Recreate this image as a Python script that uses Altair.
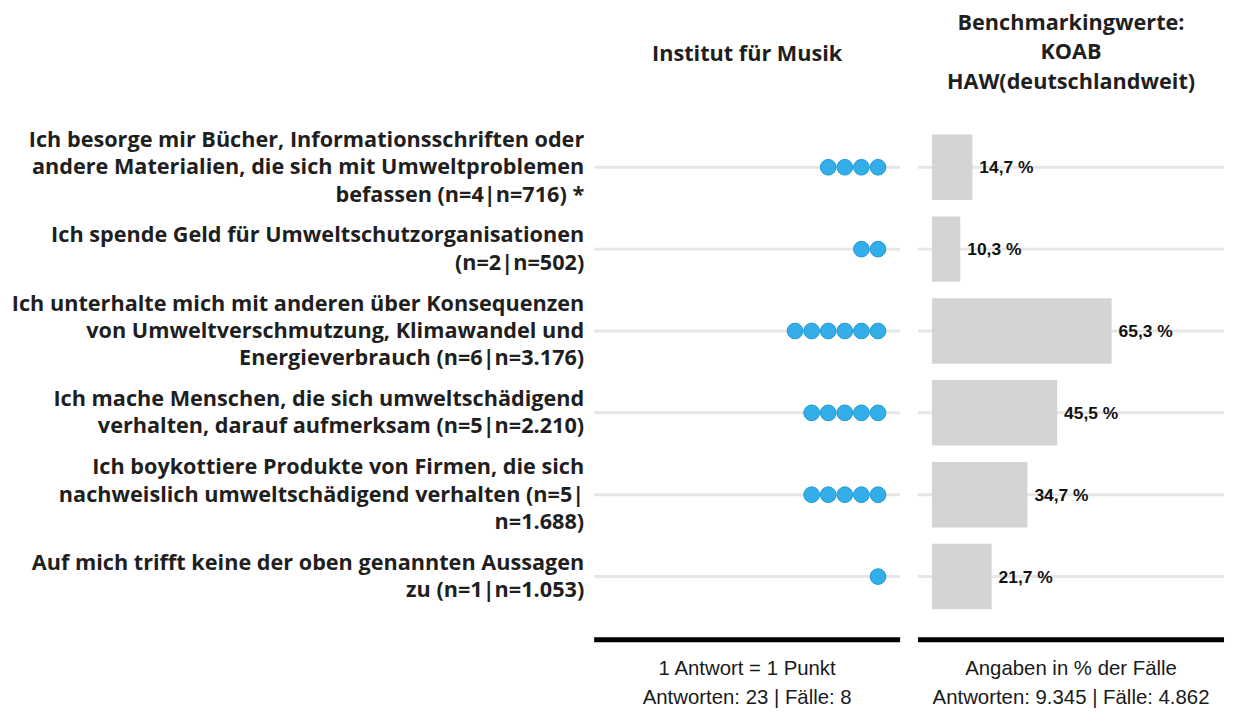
import altair as alt
import pandas as pd

# ---- data ----
labels = [
    "Ich besorge mir Bücher, Informationsschriften oder\nandere Materialien, die sich mit Umweltproblemen\nbefassen (n=4|n=716) *",
    "Ich spende Geld für Umweltschutzorganisationen\n(n=2|n=502)",
    "Ich unterhalte mich mit anderen über Konsequenzen\nvon Umweltverschmutzung, Klimawandel und\nEnergieverbrauch (n=6|n=3.176)",
    "Ich mache Menschen, die sich umweltschädigend\nverhalten, darauf aufmerksam (n=5|n=2.210)",
    "Ich boykottiere Produkte von Firmen, die sich\nnachweislich umweltschädigend verhalten (n=5|\nn=1.688)",
    "Auf mich trifft keine der oben genannten Aussagen\nzu (n=1|n=1.053)",
]
counts = [4, 2, 6, 5, 5, 1]
benchmark = [14.7, 10.3, 65.3, 45.5, 34.7, 21.7]
bench_text = ["14,7 %", "10,3 %", "65,3 %", "45,5 %", "34,7 %", "21,7 %"]

header_left = "Institut für Musik"
header_right = "Benchmarkingwerte:\nKOAB\nHAW(deutschlandweit)"
footer_left = "1 Antwort = 1 Punkt\nAntworten: 23 | Fälle: 8"
footer_right = "Angaben in % der Fälle\nAntworten: 9.345 | Fälle: 4.862"

# ---- tables ----
rows = pd.DataFrame({
    "row": list(range(len(labels))),
    "count": counts,
    "pct": benchmark,
    "pct_text": bench_text,
})
label_lines = pd.DataFrame([
    {"row": i, "line": ln, "off": j - (len(lab.split("\n")) - 1) / 2}
    for i, lab in enumerate(labels) for j, ln in enumerate(lab.split("\n"))
])
dots = pd.DataFrame([
    {"row": i, "pos": -k} for i, c in enumerate(counts) for k in range(c)
])
one = pd.DataFrame({"a": [0]})

H = 699
ROW_PX = 82.4
LINE_PX = 27.5
LABEL_W = 587      # label column incl. gap
PANEL_W = 308      # dot panel
GAP = 15
BAR_W = GAP + 308  # bar panel incl. gap
HEAD_FONT = "Open Sans"
HEAD_SIZE = 21.8
HEAD_COLOR = "#1f1f1f"
FOOT_SIZE = 20.5

yscale = alt.Scale(domain=[-1.9175, 6.5655], reverse=True, nice=False, zero=False)
Y = alt.Y("row:Q", scale=yscale, axis=None)

# ---- label panel ----
label_panel = alt.Chart(label_lines).transform_calculate(
    ypos=f"datum.row + datum.off * {LINE_PX / ROW_PX}"
).mark_text(
    align="right", baseline="middle",
    font=HEAD_FONT, fontWeight="bold", fontSize=HEAD_SIZE, color=HEAD_COLOR,
).encode(
    x=alt.value(580), y=alt.Y("ypos:Q", scale=yscale, axis=None), text="line:N"
).properties(width=LABEL_W, height=H)

# ---- dot panel ----
grid_rule = alt.Chart(rows).mark_rule(color="#e6e6e6", strokeWidth=3).encode(
    x=alt.value(0), x2=alt.value(PANEL_W), y=Y
)
dot_marks = alt.Chart(dots).mark_circle(
    size=250, opacity=1, color="#33aee8", stroke="#1f98d4", strokeWidth=1
).encode(
    x=alt.X("pos:Q", scale=alt.Scale(domain=[-17.11, 1.335], nice=False, zero=False), axis=None),
    y=Y,
)
black_rule = alt.Chart(one).mark_rule(color="black", strokeWidth=5).encode(
    x=alt.value(0), x2=alt.value(PANEL_W), y=alt.value(633.5)
)
left_header = alt.Chart(one).mark_text(
    font=HEAD_FONT, fontWeight="bold", fontSize=HEAD_SIZE, color=HEAD_COLOR,
    align="center", baseline="middle",
).encode(x=alt.value(PANEL_W / 2), y=alt.value(44), text=alt.value(header_left))
left_footer = alt.Chart(one).mark_text(
    font="Liberation Sans", fontSize=FOOT_SIZE, color="#1a1a1a", lineBreak="\n",
    lineHeight=29, align="center", baseline="middle",
).encode(x=alt.value(PANEL_W / 2), y=alt.value(663), text=alt.value(footer_left))

dot_panel = alt.layer(grid_rule, dot_marks, black_rule, left_header, left_footer).properties(
    width=PANEL_W, height=H
)

# ---- bar panel ----
xdom = [-5.054 - GAP / 2.77, 106.14]
xbar = alt.X("pct:Q", scale=alt.Scale(domain=xdom, nice=False, zero=False), axis=None)
grid_rule2 = alt.Chart(rows).mark_rule(color="#e6e6e6", strokeWidth=3).encode(
    x=alt.value(GAP), x2=alt.value(BAR_W), y=Y
)
bars = alt.Chart(rows).transform_calculate(
    y0="datum.row - 0.4", y1="datum.row + 0.4", zero="0"
).mark_rect(color="#d4d4d4").encode(
    x=alt.X("zero:Q", scale=alt.Scale(domain=xdom, nice=False, zero=False), axis=None),
    x2="pct:Q",
    y=alt.Y("y0:Q", scale=yscale, axis=None),
    y2="y1:Q",
)
bar_text = alt.Chart(rows).mark_text(
    align="left", baseline="middle", dx=7, dy=1,
    font="Liberation Sans", fontWeight="bold", fontSize=17.5, color="#111111",
).encode(x=xbar, y=Y, text="pct_text:N")
black_rule2 = alt.Chart(one).mark_rule(color="black", strokeWidth=5).encode(
    x=alt.value(GAP), x2=alt.value(BAR_W), y=alt.value(633.5)
)
right_header = alt.Chart(one).mark_text(
    font=HEAD_FONT, fontWeight="bold", fontSize=HEAD_SIZE, color=HEAD_COLOR,
    lineBreak="\n", lineHeight=29.5, align="center", baseline="middle",
).encode(x=alt.value(GAP + 154), y=alt.value(13), text=alt.value(header_right))
right_footer = alt.Chart(one).mark_text(
    font="Liberation Sans", fontSize=FOOT_SIZE, color="#1a1a1a", lineBreak="\n",
    lineHeight=29, align="center", baseline="middle",
).encode(x=alt.value(GAP + 154), y=alt.value(663), text=alt.value(footer_right))

bar_panel = alt.layer(grid_rule2, bars, bar_text, black_rule2, right_header, right_footer).properties(
    width=BAR_W, height=H
)

chart = alt.hconcat(
    label_panel, dot_panel, bar_panel, spacing=0,
).properties(padding=0).configure_view(stroke=None)

chart.save("out.html", embed_options={"renderer": "svg", "actions": False})
